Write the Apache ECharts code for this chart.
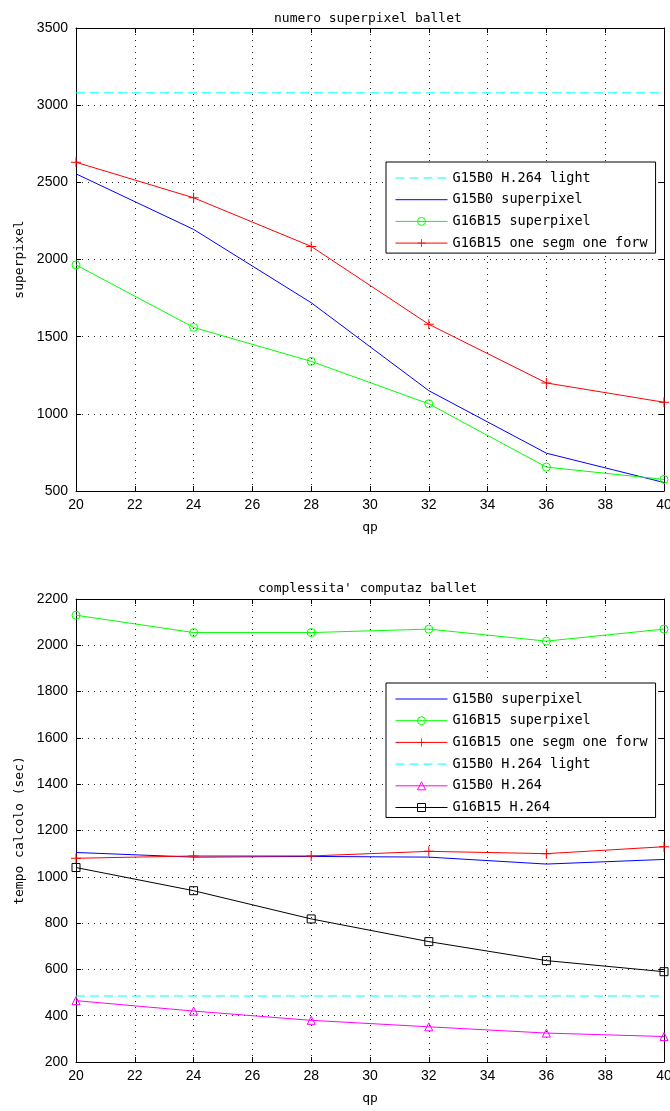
<!DOCTYPE html>
<html>
<head>
<meta charset="utf-8">
<script src="https://cdn.jsdelivr.net/npm/echarts@6/dist/echarts.min.js"></script>
<style>
  html, body { margin: 0; padding: 0; background: #fff; }
  #chart { width: 670px; height: 1111px; }
</style>
</head>
<body>
<div id="chart"></div>
<script>
  // qp values (x axis, both plots)
  let qp = [20, 24, 28, 32, 36, 40]

  // top plot: numero superpixel ballet
  let spH264Light = [3080, 3080, 3080, 3080, 3080, 3080]
  let spG15B0 = [2555, 2195, 1720, 1150, 745, 555]
  let spG16B15 = [1965, 1560, 1340, 1065, 655, 575]
  let spOneSegm = [2630, 2400, 2085, 1580, 1200, 1075]

  // bottom plot: complessita' computaz ballet (sec)
  let tG15B0 = [1105, 1085, 1088, 1085, 1055, 1075]
  let tG16B15 = [2130, 2055, 2055, 2070, 2018, 2070]
  let tOneSegm = [1080, 1090, 1090, 1110, 1100, 1130]
  let tH264Light = [485, 485, 485, 485, 485, 485]
  let tG15B0H264 = [465, 420, 380, 352, 325, 310]
  let tG16B15H264 = [1040, 940, 818, 720, 638, 590]

  let mono = 'DejaVu Sans Mono'
  let sans = 'Liberation Sans'
  let plusPath = 'path://M4.5,0 H5.5 V10 H4.5 Z M0,4.5 H10 V5.5 H0 Z'

  function pairs(vals) {
    return qp.map((q, i) => [q, vals[i]])
  }

  function line(name, vals, color, axis, opts) {
    opts = opts || {}
    let style
    if (!opts.symbol) {
      // no marker: keep the legend symbol invisible too
      style = { color: 'transparent', borderColor: 'transparent', borderWidth: 0 }
    } else if (opts.fill) {
      style = { color: color, borderColor: 'transparent', borderWidth: 0 }
    } else {
      style = { color: 'transparent', borderColor: color, borderWidth: 1 }
    }
    return {
      name: name,
      type: 'line',
      xAxisIndex: axis,
      yAxisIndex: axis,
      data: pairs(vals),
      symbol: opts.symbol || 'none',
      symbolSize: opts.size || 8,
      lineStyle: { color: color, width: 1, type: opts.dash ? [9, 5] : 'solid' },
      itemStyle: style,
      emphasis: { disabled: true },
      z: opts.z || 2
    }
  }

  function plain(v) { return String(v) }

  function mainX(grid) {
    return {
      type: 'value', gridIndex: grid, min: 20, max: 40, interval: 2,
      axisLine: { lineStyle: { color: '#000', width: 1 } },
      axisTick: { inside: true, length: 5, lineStyle: { color: '#000' } },
      axisLabel: { color: '#000', fontFamily: sans, fontSize: 14, margin: 7, formatter: plain },
      splitLine: { show: true, lineStyle: { color: '#222', type: [1, 5] } },
      name: 'qp', nameLocation: 'middle', nameGap: 30,
      nameTextStyle: { color: '#000', fontFamily: mono, fontSize: 13 }
    }
  }
  function topX(grid) {
    return {
      type: 'value', gridIndex: grid, min: 20, max: 40, interval: 2, position: 'top',
      axisLine: { lineStyle: { color: '#000', width: 1 } },
      axisTick: { inside: true, length: 5, lineStyle: { color: '#000' } },
      axisLabel: { show: false }, splitLine: { show: false }
    }
  }
  function mainY(grid, min, max, step, name) {
    return {
      type: 'value', gridIndex: grid, min: min, max: max, interval: step,
      axisLine: { show: true, lineStyle: { color: '#000', width: 1 } },
      axisTick: { show: true, inside: true, length: 5, lineStyle: { color: '#000' } },
      axisLabel: { color: '#000', fontFamily: sans, fontSize: 14, margin: 8, formatter: plain },
      splitLine: { show: true, lineStyle: { color: '#222', type: [1, 5] } },
      name: name, nameLocation: 'middle', nameGap: 44,
      nameTextStyle: { color: '#000', fontFamily: mono, fontSize: 13 }
    }
  }
  function rightY(grid, min, max, step) {
    return {
      type: 'value', gridIndex: grid, min: min, max: max, interval: step, position: 'right',
      axisLine: { show: true, lineStyle: { color: '#000', width: 1 } },
      axisTick: { show: true, inside: true, length: 5, lineStyle: { color: '#000' } },
      axisLabel: { show: false }, splitLine: { show: false }
    }
  }

  let legendBase = {
    orient: 'vertical',
    backgroundColor: '#fff',
    borderColor: '#000',
    borderWidth: 1,
    borderRadius: 0,
    itemWidth: 52,
    itemHeight: 10,
    itemGap: 7.7,
    padding: [9, 8, 3, 9],
    selectedMode: false,
    lineStyle: { width: 1 },
    itemStyle: { borderWidth: 1 },
    formatter: n => n.trim(),
    textStyle: { color: '#000', fontFamily: mono, fontSize: 13.5, lineHeight: 14 }
  }

  let chart = echarts.init(document.getElementById('chart'))
  let option = {
    animation: false,
    backgroundColor: '#fff',
    title: [
      { text: 'numero superpixel ballet', left: 269, top: 7,
        textStyle: { fontFamily: mono, fontSize: 13, fontWeight: 'normal', color: '#000' } },
      { text: "complessita' computaz ballet", left: 253, top: 577,
        textStyle: { fontFamily: mono, fontSize: 13, fontWeight: 'normal', color: '#000' } }
    ],
    grid: [
      { left: 76, top: 28, width: 588, height: 463, containLabel: false, outerBoundsMode: 'none' },
      { left: 76, top: 599, width: 588, height: 463, containLabel: false, outerBoundsMode: 'none' }
    ],
    xAxis: [mainX(0), topX(0), mainX(1), topX(1)],
    yAxis: [
      mainY(0, 500, 3500, 500, 'superpixel'),
      rightY(0, 500, 3500, 500),
      mainY(1, 200, 2200, 200, 'tempo calcolo (sec)'),
      rightY(1, 200, 2200, 200)
    ],
    legend: [
      Object.assign({}, legendBase, {
        left: 386, top: 162,
        data: ['G15B0 H.264 light', 'G15B0 superpixel', 'G16B15 superpixel', 'G16B15 one segm one forw']
      }),
      Object.assign({}, legendBase, {
        left: 386, top: 683,
        data: ['G15B0 superpixel ', 'G16B15 superpixel ', 'G16B15 one segm one forw ',
          'G15B0 H.264 light ', 'G15B0 H.264', 'G16B15 H.264']
      })
    ],
    series: [
      line('G15B0 H.264 light', spH264Light, '#00ffff', 0, { dash: true }),
      line('G15B0 superpixel', spG15B0, '#0000ff', 0),
      line('G16B15 superpixel', spG16B15, '#00ff00', 0, { symbol: 'circle', size: 8 }),
      line('G16B15 one segm one forw', spOneSegm, '#ff0000', 0, { symbol: plusPath, size: 10, fill: true }),

      line('G15B0 superpixel ', tG15B0, '#0000ff', 2),
      line('G16B15 superpixel ', tG16B15, '#00ff00', 2, { symbol: 'circle', size: 8 }),
      line('G16B15 one segm one forw ', tOneSegm, '#ff0000', 2, { symbol: plusPath, size: 10, fill: true, z: 3 }),
      line('G15B0 H.264 light ', tH264Light, '#00ffff', 2, { dash: true }),
      line('G15B0 H.264', tG15B0H264, '#ff00ff', 2, { symbol: 'triangle', size: 8 }),
      line('G16B15 H.264', tG16B15H264, '#000000', 2, { symbol: 'rect', size: 8 })
    ]
  }
  chart.setOption(option)
</script>
</body>
</html>
